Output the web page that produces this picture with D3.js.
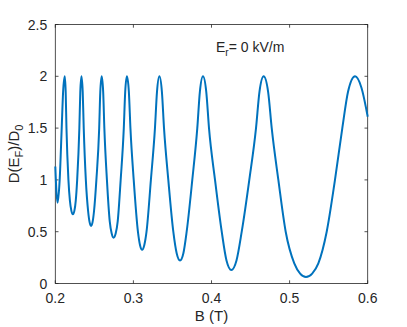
<!DOCTYPE html>
<html>
<head>
<meta charset="utf-8">
<script src="https://cdn.jsdelivr.net/npm/d3@7"></script>
<style>
  html, body { margin: 0; padding: 0; background: #ffffff; }
  svg { display: block; }
  text { font-family: "Liberation Sans", Arial, Helvetica, sans-serif; fill: #262626; }
</style>
</head>
<body>
<svg id="chart" width="407" height="327"></svg>
<script>
// Magnetic field B (T)
const bValues = [
  0.2000, 0.2015, 0.2030, 0.2056, 0.2082, 0.2100, 0.2121, 0.2133, 0.2143, 0.2168,
  0.2187, 0.2206, 0.2225, 0.2244, 0.2262, 0.2280, 0.2308, 0.2320, 0.2335, 0.2351,
  0.2364, 0.2391, 0.2420, 0.2439, 0.2458, 0.2477, 0.2496, 0.2526, 0.2562, 0.2576,
  0.2594, 0.2613, 0.2628, 0.2661, 0.2697, 0.2722, 0.2746, 0.2773, 0.2799, 0.2837,
  0.2877, 0.2895, 0.2917, 0.2942, 0.2962, 0.3004, 0.3058, 0.3085, 0.3112, 0.3139,
  0.3168, 0.3224, 0.3276, 0.3302, 0.3333, 0.3365, 0.3392, 0.3447, 0.3511, 0.3554,
  0.3597, 0.3640, 0.3682, 0.3754, 0.3818, 0.3851, 0.3891, 0.3933, 0.3968, 0.4045,
  0.4131, 0.4192, 0.4254, 0.4320, 0.4387, 0.4484, 0.4570, 0.4614, 0.4668, 0.4725,
  0.4771, 0.4856, 0.4950, 0.5060, 0.5135, 0.5210, 0.5289, 0.5368, 0.5475, 0.5581,
  0.5675, 0.5748, 0.5838, 0.5920, 0.6000
];
// D(E_F)/D_0
const dValues = [
  1.13, 0.88, 0.78, 1.00, 1.50, 1.85, 2.00, 1.85, 1.50, 1.00,
  0.80, 0.701, 0.668, 0.701, 0.80, 1.00, 1.50, 1.85, 2.00, 1.85,
  1.50, 1.00, 0.70, 0.592, 0.556, 0.592, 0.70, 1.00, 1.50, 1.85,
  2.00, 1.85, 1.50, 1.00, 0.60, 0.482, 0.442, 0.482, 0.60, 1.00,
  1.50, 1.85, 2.00, 1.85, 1.50, 1.00, 0.50, 0.369, 0.325, 0.369,
  0.50, 1.00, 1.50, 1.85, 2.00, 1.85, 1.50, 1.00, 0.50, 0.292,
  0.222, 0.292, 0.50, 1.00, 1.50, 1.85, 2.00, 1.85, 1.50, 1.00,
  0.50, 0.222, 0.130, 0.222, 0.50, 1.00, 1.50, 1.85, 2.00, 1.85,
  1.50, 1.00, 0.50, 0.195, 0.096, 0.063, 0.096, 0.195, 0.50, 1.00,
  1.50, 1.85, 2.00, 1.89, 1.61
];
const xTicks = [0.2, 0.3, 0.4, 0.5, 0.6];
const yTicks = [0, 0.5, 1, 1.5, 2, 2.5];
const xTickLabels = ["0.2", "0.3", "0.4", "0.5", "0.6"];
const yTickLabels = ["0", "0.5", "1", "1.5", "2", "2.5"];

const L = 55.3, R = 367.7, T = 24.5, B = 283.5;
const axisColor = "#262626";
const svg = d3.select("#chart");

const x = d3.scaleLinear().domain([0.2, 0.6]).range([L, R]);
const y = d3.scaleLinear().domain([0, 2.5]).range([B, T]);

const tickLen = 3.2;

// Box
svg.append("rect")
  .attr("x", L).attr("y", T).attr("width", R - L).attr("height", B - T)
  .attr("fill", "none").attr("stroke", axisColor).attr("stroke-width", 0.8);

// Ticks (inside, on all four sides)
const tg = svg.append("g").attr("stroke", axisColor).attr("stroke-width", 0.8);
xTicks.forEach(v => {
  tg.append("line").attr("x1", x(v)).attr("x2", x(v)).attr("y1", B).attr("y2", B - tickLen);
  tg.append("line").attr("x1", x(v)).attr("x2", x(v)).attr("y1", T).attr("y2", T + tickLen);
});
yTicks.forEach(v => {
  tg.append("line").attr("x1", L).attr("x2", L + tickLen).attr("y1", y(v)).attr("y2", y(v));
  tg.append("line").attr("x1", R).attr("x2", R - tickLen).attr("y1", y(v)).attr("y2", y(v));
});

// Tick labels
xTicks.forEach((v, i) => {
  svg.append("text").attr("x", x(v)).attr("y", B + 19.5)
    .attr("text-anchor", "middle").attr("font-size", 14).text(xTickLabels[i]);
});
yTicks.forEach((v, i) => {
  svg.append("text").attr("x", L - 8).attr("y", y(v) + 5)
    .attr("text-anchor", "end").attr("font-size", 14).text(yTickLabels[i]);
});

// Curve
const pts = bValues.map((b, i) => [b, dValues[i]]);
const line = d3.line().x(d => x(d[0])).y(d => y(d[1])).curve(d3.curveMonotoneX);
svg.append("path").datum(pts)
  .attr("d", line).attr("fill", "none")
  .attr("stroke", "#0072BD").attr("stroke-width", 2)
  .attr("stroke-linejoin", "round");

// Axis labels
svg.append("text").attr("x", (L + R) / 2).attr("y", 321)
  .attr("text-anchor", "middle").attr("font-size", 15).text("B (T)");

const yl = svg.append("text")
  .attr("transform", `translate(19,${(T + B) / 2}) rotate(-90)`)
  .attr("text-anchor", "middle").attr("font-size", 15);
yl.append("tspan").text("D(E");
yl.append("tspan").attr("font-size", 11).attr("dy", 4).text("F");
yl.append("tspan").attr("dy", -4).text(")/D");
yl.append("tspan").attr("font-size", 11).attr("dy", 4).text("0");

// Annotation
const ann = svg.append("text").attr("x", 216).attr("y", 51.5).attr("font-size", 14);
ann.append("tspan").text("E");
ann.append("tspan").attr("font-size", 10).attr("dy", 4).text("r");
ann.append("tspan").attr("dy", -4).text("= 0 kV/m");
</script>
</body>
</html>
